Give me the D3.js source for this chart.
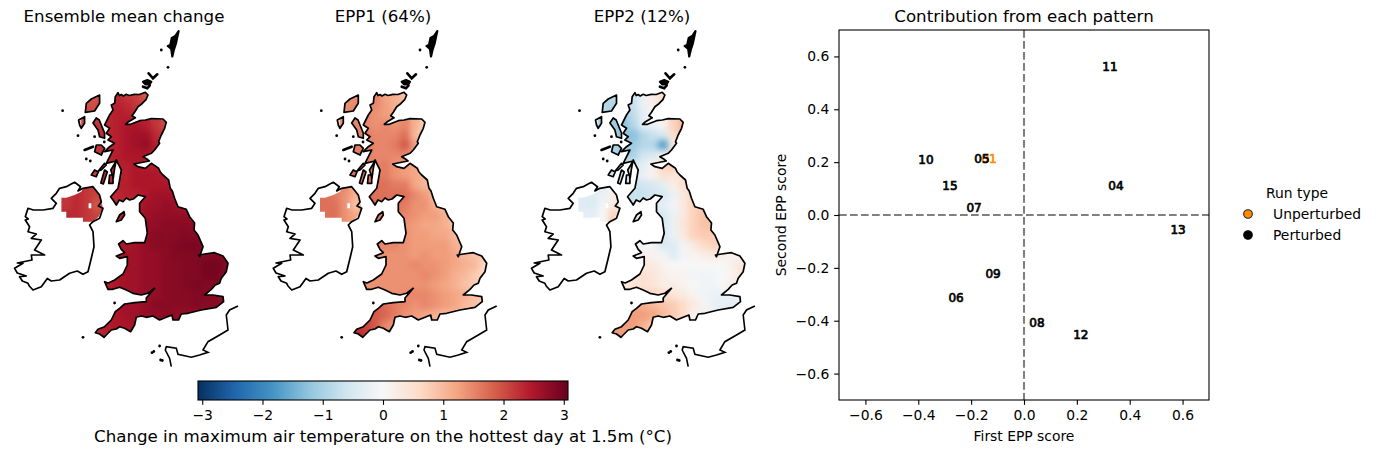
<!DOCTYPE html>
<html><head><meta charset="utf-8"><script src="https://cdn.jsdelivr.net/npm/d3@7/dist/d3.min.js"></script>
<style>html,body{margin:0;background:#fff}text{font-family:"DejaVu Sans",sans-serif;fill:#000}</style></head>
<body><svg id="c" width="1376" height="454"></svg>
<script>
// ---- coastlines, in map units
const greatBritain=[[376.7,92.7],[378,95.5],[380,94.5],[382,96],[385,94.3],[388,95.5],[393,94.3],[398,94.5],[404,92.3],[406.7,95],[404.7,99.7],[400.7,103.7],[396.7,106.7],[393.3,112.3],[390.7,115.7],[394,117.7],[387.3,121.7],[384.3,124.3],[389.3,124.3],[398.3,120.7],[404,120],[410,118.7],[421.7,119],[425,122.3],[423.3,128.3],[420,135],[417.3,141.7],[418.3,143.3],[413.3,150],[410,153.3],[401.7,156.7],[406,159.3],[408,161],[392.7,164],[396.7,166.7],[404,168.3],[410,163.3],[417.3,168.3],[419,172],[421.7,175],[427.3,180],[429,188.3],[431,191],[433.3,198.3],[436.7,206.7],[445,209.3],[448.3,216.7],[453.3,223],[452.7,230],[456.7,235],[461.7,246.7],[458.3,256.7],[457.3,255],[463.3,254],[473.3,252.7],[481.7,256],[486.7,263.3],[485,271.7],[480,278.3],[478.3,283.3],[474,285],[470,289.3],[463.3,295],[471.7,295],[481.7,296.7],[482.3,301.7],[475,307.3],[460,310],[446.7,313.3],[440,314],[437.3,320],[431.7,320],[430.7,315],[425,317.3],[418.3,320],[411.7,316],[405,317.3],[400,316],[395,317.3],[393.3,325],[389.3,331.7],[383.3,328.3],[378.3,326.7],[375,329],[370,330],[365,335],[362.7,337.3],[358.3,334],[354,332.7],[356.7,329.3],[363.3,326.7],[370,320],[374,311.7],[378.3,308.3],[383.3,304],[393.3,302.7],[405,301.7],[405,298],[413.3,288.3],[406.7,293.3],[400,295],[391.7,293.3],[385,290],[378.3,287.3],[371.7,289.3],[366.7,289.3],[363.3,281.7],[367,283],[373.3,280],[381.7,274],[386,265],[386,256.7],[378.3,258.3],[375,256],[383.3,252.7],[380,249.3],[377.3,244],[381.7,240.7],[385,244],[393.3,242.7],[403.3,242.7],[406,233.3],[404,218.3],[398.3,211.7],[398.3,203.3],[404,196.7],[396.7,195],[392,199],[388.3,200],[385,198],[381.7,201.7],[378,200],[375,205],[371.7,200],[369.3,196.7],[376.7,188.3],[378.3,180],[380,170],[378.3,166.7],[375,160],[373.3,168.3],[372,178],[369.5,170],[375,161],[365,163.3],[371.7,150],[363.3,151.7],[368.3,146.7],[373.3,143.3],[366.7,140],[370,136.7],[365,133.3],[368.3,128.3],[363.3,125],[368.3,115],[371.7,110],[370,105],[373.3,103.3],[374,96.7]];
const ireland=[[318.3,188.3],[325,186.7],[329,184.5],[333.3,182.3],[339.3,186.7],[336.7,191],[341.7,188.3],[351.7,186.7],[358.3,195],[360,202],[357,206],[361.7,208.3],[358.3,218.3],[351.7,221.7],[348.3,225],[351.7,231.7],[352.7,246.7],[350,258.3],[346.7,271.7],[341.7,274.3],[336,271],[328.3,273.3],[318.3,280],[310,281],[306,278.5],[300,286.7],[291.7,290],[288,286],[286.7,283.3],[281,281],[278.3,276.7],[285,276],[276,273],[273.3,268.3],[281.7,263.3],[276,263],[290.7,260],[290,255],[303.3,255],[293.3,250],[300,240],[290,238.3],[295,234],[286.7,231.7],[288.3,226.7],[284,220],[287,219],[284,216.7],[286.7,208.3],[292,210],[301.7,210],[311.7,208.3],[315,203.3],[310,198.3],[315,193.3]];
const france=[[496.7,306],[488.3,310],[485,315],[486.7,330],[478.3,335],[466.7,341.7],[461.7,350],[466.7,352.3],[458.3,355],[450,357.3],[436.7,354.3],[435,348.3],[425,346.7],[424,350],[428.3,358.3],[430,366.7]];
const lewis=[[358.3,95],[350,99],[345,103.3],[344,112.3],[353.3,111],[358.3,103.3]];
const uist=[[343.3,116.7],[337.3,120],[338.3,125],[340,128.3],[343.3,123.3]];
const skye=[[355,118],[351.7,123],[356.7,130],[358.3,136.7],[363.3,138.3],[363.3,133],[360,125],[358,120]];
const mull=[[355,145],[353.3,151.7],[360,155],[363.3,148.3],[360,145]];
const jura=[[363.3,163.3],[365,165],[360,170],[357,171]];
const islay=[[353.3,170],[350,175],[355,176.7],[357,172]];
const kintyre=[[363.3,170],[366,172],[362,184],[359.5,183]];
const arran=[[368.3,175],[367.5,183.3],[371.7,183.3],[371.7,175]];
const isleOfMan=[[382.7,211.7],[378.3,215],[375,221.7],[380,220],[383.3,215]];
const shetland=[[437.3,31],[434,36],[430.5,38],[429,45],[426.5,46],[430,49],[431,56.5],[432.5,50],[434.5,44],[436,37]];
const orkneyA=[[407.3,73.3],[411.7,78.3],[416,74.3]];
const orkneyB=[[401.7,81.7],[406,80],[410,81.7],[408.3,84.3],[404,84.3]];
const orkneyC=[[401.7,86.7],[406,88.3],[408.5,85.5]];
const tiree=[[343.3,150],[351.7,146.7]];
const smallIslands=[[420,50],[426.7,67.3],[321.3,110.7],[373.3,303],[341.7,337.3],[336.7,135.7],[353.3,136.7],[418.3,346],[410.7,352.7],[412.5,351.5],[419.3,360],[421,360.5],[349,161],[345,159],[363,142]];
const northernIrelandMask=[[320,197.7],[320,211.7],[325,211.7],[325,217.7],[341.7,217.7],[341.7,221.7],[351.7,221.7],[357.3,216.7],[361.7,208.3],[358.3,195],[351.7,186.7],[341.7,188.3],[340,191.7],[333.3,195],[325,197.7]];
const northernIrelandHole=[[347.3,203.3],[350,203.3],[350,208.3],[347.3,208.3]];

// ---- gridded fields: first column of each row, then values in degC
const rowStart=[0,0,0,0,1,1,1,1,1,2,3,3,3,5,5,3,3,4,3,2,3,3,2,1,1];
const ensembleMean=[
[1.9,1.9,2.2,2.3,2.2,2.1,1.9],
[2.0,2.0,2.2,2.4,2.3,2.2,2.0],
[2.0,2.1,2.3,2.4,2.4,2.3],
[2.0,2.2,2.3,2.4,2.5,2.5,2.4,2.2,2.0],
[2.2,2.3,2.4,2.5,2.6,2.6,2.3,2.1],
[2.2,2.3,2.4,2.5,2.6,2.7,2.4,2.2],
[2.2,2.3,2.4,2.5,2.5,2.5,2.4],
[2.2,2.3,2.4,2.4,2.5,2.4,2.4],
[2.1,2.2,2.3,2.4,2.5,2.5,2.5,2.4],
[2.3,2.4,2.4,2.5,2.5,2.5,2.5],
[2.3,2.4,2.4,2.5,2.6,2.6,2.5],
[2.3,2.3,2.4,2.6,2.6,2.7,2.6,2.5],
[2.4,2.4,2.5,2.6,2.7,2.7,2.7,2.7,2.6],
[2.6,2.7,2.7,2.8,2.8,2.8,2.7],
[2.6,2.7,2.8,2.8,2.8,2.85,2.8],
[2.5,2.5,2.6,2.7,2.8,2.8,2.85,2.9,2.9,2.8],
[2.5,2.6,2.6,2.7,2.7,2.8,2.85,2.85,2.85,2.85,2.85,2.8],
[2.6,2.6,2.7,2.7,2.8,2.8,2.85,2.85,2.95,2.95,2.85],
[2.5,2.6,2.6,2.7,2.7,2.8,2.8,2.85,2.85,2.95,2.95,2.85],
[2.4,2.5,2.6,2.6,2.7,2.7,2.8,2.8,2.85,2.9,2.85,2.85],
[2.6,2.6,2.6,2.7,2.7,2.8,2.8,2.8,2.85,2.85,2.8,2.7],
[2.5,2.6,2.6,2.7,2.8,2.8,2.8,2.8,2.85,2.8,2.8,2.7],
[2.5,2.5,2.6,2.6,2.7,2.7,2.8,2.7,2.7,2.7],
[2.3,2.4,2.5,2.5,2.6],
[2.3,2.4,2.5,2.5,2.6]];
const epp1=[
[1.3,1.4,1.4,1.6,1.2,1.1,0.9],
[1.4,1.5,1.5,1.5,1.3,1.1,1.0],
[1.4,1.5,1.5,1.4,1.3,1.2],
[1.4,1.5,1.5,1.4,1.5,1.4,1.5,1.1,0.7],
[1.5,1.6,1.5,1.5,1.5,1.7,1.0,0.7],
[1.6,1.6,1.5,1.5,1.6,1.9,1.3,0.8],
[1.6,1.6,1.5,1.5,1.5,1.5,1.2],
[1.7,1.6,1.5,1.6,1.4,1.3,1.2],
[1.7,1.7,1.6,1.6,1.4,1.3,1.2,1.0],
[1.7,1.7,1.7,1.6,1.6,1.2,1.0],
[1.7,1.7,1.7,1.7,1.5,1.3,1.0],
[1.7,1.7,1.7,1.6,1.4,1.4,1.1,0.9],
[1.6,1.6,1.6,1.5,1.4,1.3,1.3,1.1,0.9],
[1.5,1.4,1.3,1.2,1.2,1.1,0.9],
[1.6,1.4,1.3,1.3,1.2,1.2,1.0],
[1.5,1.5,1.5,1.4,1.3,1.3,1.3,1.3,1.1,0.9],
[1.4,1.4,1.4,1.4,1.3,1.4,1.3,1.3,1.2,1.0,0.9,0.8],
[1.4,1.4,1.4,1.5,1.4,1.4,1.3,1.2,1.1,1.0,0.6],
[1.4,1.4,1.4,1.4,1.4,1.5,1.4,1.3,1.1,1.0,0.8,0.6],
[1.4,1.4,1.4,1.4,1.4,1.4,1.4,1.3,1.2,1.1,0.9,0.8],
[1.5,1.5,1.4,1.5,1.5,1.5,1.4,1.3,1.2,1.1,0.9,0.8],
[1.9,1.7,1.6,1.5,1.4,1.5,1.4,1.3,1.2,1.0,0.9,0.8],
[2.0,1.9,1.8,1.6,1.4,1.3,1.2,1.1,1.0,1.0],
[2.2,2.1,1.9,1.5,1.3],
[2.4,2.2,1.9,1.5,1.3]];
const epp2=[
[-0.9,-0.8,-0.7,-0.7,-0.2,0.2,0.6],
[-0.9,-0.9,-0.9,-0.7,-0.2,0.2,0.6],
[-0.9,-1.0,-1.1,-0.8,-0.3,0.0],
[-1.0,-1.1,-1.3,-0.9,-0.3,-0.2,0.1,0.7,1.0],
[-1.1,-1.2,-1.3,-0.9,-0.7,-0.5,0.5,1.0],
[-1.0,-1.2,-1.1,-0.9,-0.9,-1.7,0.2,1.0],
[-0.9,-1.0,-1.0,-0.6,-0.5,-0.1,0.7],
[-0.8,-0.8,-0.6,-0.3,0.1,0.7,0.9],
[-0.6,-0.6,-0.5,-0.2,0.1,0.5,0.4,0.5],
[-0.7,-0.7,-0.6,-0.5,-0.3,0.2,0.5],
[-0.7,-0.7,-0.6,-0.5,-0.2,0.3,0.7],
[-0.6,-0.5,-0.4,-0.3,-0.1,0.3,0.7,0.8],
[-0.3,-0.3,-0.4,-0.5,-0.2,0.3,0.7,0.9,0.9],
[-0.5,-0.5,-0.2,0.4,0.7,0.9,0.9],
[-0.5,-0.5,-0.2,0.3,0.7,0.8,0.8],
[0.2,-0.1,-0.1,-0.5,-0.4,-0.1,0.3,0.6,0.7,0.7],
[0.1,0.2,0.1,-0.1,-0.4,-0.1,0.1,0.2,0.3,0.2,0.1,0.1],
[0.3,0.3,0.1,0.0,0.0,0.0,0.0,0.0,0.0,0.2,0.4],
[0.4,0.5,0.4,0.2,0.1,0.1,-0.1,-0.1,-0.1,0.0,0.1,0.5],
[0.3,0.4,0.5,0.4,0.2,0.2,0.1,0.0,-0.1,-0.1,0.0,0.3],
[0.7,0.7,0.7,0.6,0.4,0.3,0.1,-0.1,-0.2,-0.2,-0.2,-0.1],
[1.2,1.1,1.0,0.9,0.8,0.6,0.3,0.1,-0.2,-0.3,-0.3,-0.2],
[1.3,1.3,1.3,1.2,1.0,0.8,0.6,0.1,-0.2,-0.2],
[1.3,1.3,1.3,1.1,0.8],
[1.3,1.3,1.2,1.0,0.7]];
const niEnsembleMean=[[2.3,2.3,2.2,2.1,2.1],[2.2,2.3,2.2,2.1,2.1],[2.2,2.3,2.2,1.9,2.0],[2.3,2.3,2.2,2.1,2.1],[2.3,2.3,2.2,2.1,2.1]];
const niEpp1=[[1.6,1.6,1.5,1.1,1.0],[1.7,1.6,1.4,1.1,1.0],[1.7,1.7,1.4,0.9,1.0],[1.7,1.7,1.4,1.2,1.2],[1.7,1.7,1.4,1.2,1.2]];
const niEpp2=[[-0.4,-0.4,-0.3,0.0,0.2],[-0.4,-0.4,-0.2,0.2,0.3],[-0.4,-0.4,-0.1,0.3,0.4],[-0.3,-0.3,0.0,0.7,0.5],[-0.3,-0.3,0.0,0.9,0.6]];

// ---- scatter
const runLabels=["01","05","10","15","07","11","04","13","09","06","08","12"];
const firstEpp=[-0.132,-0.159,-0.371,-0.28,-0.189,0.325,0.348,0.583,-0.117,-0.257,0.049,0.215];
const secondEpp=[0.212,0.212,0.208,0.11,0.026,0.56,0.11,-0.057,-0.223,-0.314,-0.408,-0.454];
const runTypes=["Unperturbed","Perturbed","Perturbed","Perturbed","Perturbed","Perturbed","Perturbed","Perturbed","Perturbed","Perturbed","Perturbed","Perturbed"];
const legendTypes=["Unperturbed","Perturbed"];
const typeColours=["#ff8c00","#000000"];
const scatterTicks=[-0.6,-0.4,-0.2,0,0.2,0.4,0.6];
const colourbarTicks=[-3,-2,-1,0,1,2,3];
const rdbuStops=["#053061","#2166ac","#4393c3","#92c5de","#d1e5f0","#f7f7f7","#fddbc7","#f4a582","#d6604d","#b2182b","#67001f"];
const limit=3.07;
const panels=[
 {title:"Ensemble mean change",grid:ensembleMean,ni:niEnsembleMean,left:-258.7},
 {title:"EPP1 (64%)",grid:epp1,ni:niEpp1,left:0},
 {title:"EPP2 (12%)",grid:epp2,ni:niEpp2,left:258.2}];

const svg=d3.select("#c"), defs=svg.append("defs");
const colour=d3.scaleLinear().domain(d3.range(11).map(i=>-limit+i*limit/5)).range(rdbuStops).clamp(true);

const blur=defs.append("filter").attr("id","soft").attr("x","-5%").attr("y","-5%").attr("width","110%").attr("height","110%").attr("color-interpolation-filters","sRGB");
blur.append("feGaussianBlur").attr("in","SourceGraphic").attr("stdDeviation",3).attr("result","b");
const merge=blur.append("feMerge"); merge.append("feMergeNode").attr("in","SourceGraphic"); merge.append("feMergeNode").attr("in","b");

const landPolys=[greatBritain,lewis,uist,skye,mull,jura,islay,kintyre,arran,isleOfMan];
const outlinePolys=[greatBritain,ireland,lewis,uist,skye,mull,jura,islay,kintyre,arran,isleOfMan];
panels.forEach((p,k)=>{
  const g=svg.append("g");
  const mx=d3.scaleLinear().domain([0,1]).range([p.left,p.left+1]);
  const my=d3.scaleLinear().domain([0,1]).range([0,1]);
  const ring=d3.line().x(d=>mx(d[0])).y(d=>my(d[1])).curve(d3.curveLinearClosed);
  const open=d3.line().x(d=>mx(d[0])).y(d=>my(d[1]));
  const cx=d3.scaleLinear().domain([0,1]).range([mx(340),mx(350)]);
  const cy=d3.scaleLinear().domain([0,1]).range([my(90),my(100)]);
  const nx=d3.scaleLinear().domain([0,1]).range([mx(320),mx(330)]);
  const ny=d3.scaleLinear().domain([0,1]).range([my(180),my(190)]);
  defs.append("clipPath").attr("id","land"+k).append("path").attr("d",landPolys.map(ring).join(""));
  defs.append("clipPath").attr("id","ni"+k).append("path").attr("clip-rule","evenodd").attr("d",ring(northernIrelandMask)+ring(northernIrelandHole));
  const cells=[];
  p.grid.forEach((row,i)=>row.forEach((v,j)=>cells.push({i,j:j+rowStart[i],v})));
  g.append("g").attr("clip-path",`url(#land${k})`).append("g").attr("filter","url(#soft)")
    .selectAll("rect").data(cells).join("rect")
    .attr("x",d=>cx(d.j)).attr("y",d=>cy(d.i)).attr("width",cx(1)-cx(0)+.3).attr("height",cy(1)-cy(0)+.3)
    .attr("fill",d=>colour(d.v));
  const niCells=[];
  p.ni.forEach((row,i)=>row.forEach((v,j)=>niCells.push({i,j,v})));
  g.append("g").attr("clip-path",`url(#ni${k})`).append("g").attr("filter","url(#soft)")
    .selectAll("rect").data(niCells).join("rect")
    .attr("x",d=>nx(d.j)).attr("y",d=>ny(d.i)).attr("width",nx(1)-nx(0)+.3).attr("height",ny(1)-ny(0)+.3)
    .attr("fill",d=>colour(d.v));
  g.append("g").selectAll("path").data(outlinePolys).join("path").attr("d",ring)
    .attr("fill","none").attr("stroke","#000").attr("stroke-width",1.7).attr("stroke-linejoin","round");
  g.append("path").attr("d",open(france)).attr("fill","none").attr("stroke","#000").attr("stroke-width",1.6);
  g.append("g").selectAll("path").data([tiree,orkneyA,orkneyC]).join("path").attr("d",open)
    .attr("fill","none").attr("stroke","#000").attr("stroke-width",2.6).attr("stroke-linecap","round");
  g.append("g").selectAll("path").data([shetland,orkneyB]).join("path").attr("d",ring)
    .attr("fill","#000").attr("stroke","#000").attr("stroke-width",2.2).attr("stroke-linejoin","round");
  g.append("g").selectAll("circle").data(smallIslands).join("circle")
    .attr("cx",d=>mx(d[0])).attr("cy",d=>my(d[1])).attr("r",1.4).attr("fill","#000");
  svg.append("text").attr("x",[124,383,642][k]).attr("y",22).attr("text-anchor","middle").attr("font-size",16.67).text(p.title);
});

// colourbar
const cb=d3.scaleLinear().domain([-limit,limit]).range([198,568]);
const gradId="cbg"; const grad=defs.append("linearGradient").attr("id",gradId);
d3.range(11).forEach(i=>grad.append("stop").attr("offset",i/10).attr("stop-color",rdbuStops[i]));
svg.append("rect").attr("x",198).attr("y",381).attr("width",370).attr("height",19).attr("fill",`url(#${gradId})`);
const cbAxis=svg.append("g").attr("transform","translate(0,400)").call(d3.axisBottom(cb).tickValues(colourbarTicks).tickFormat(d3.format("d")).tickSize(4.86).tickPadding(4.9));
cbAxis.select(".domain").remove();
cbAxis.selectAll("line").attr("stroke-width",1.1);
cbAxis.selectAll("text").attr("font-size",13.89).attr("font-family",'"DejaVu Sans"');
svg.append("rect").attr("x",198).attr("y",381).attr("width",370).attr("height",19).attr("fill","none").attr("stroke","#000").attr("stroke-width",1.1);
svg.append("text").attr("x",383).attr("y",442).attr("text-anchor","middle").attr("font-size",16.67).text("Change in maximum air temperature on the hottest day at 1.5m (°C)");

// scatter
const sx=d3.scaleLinear().domain([-0.7,0.7]).range([839,1209]);
const sy=d3.scaleLinear().domain([-0.7,0.7]).range([400,30]);
const fmt=d3.format(".1f");
const xa=svg.append("g").attr("transform","translate(0,400)").call(d3.axisBottom(sx).tickValues(scatterTicks).tickFormat(fmt).tickSize(4.86).tickPadding(4.9));
const ya=svg.append("g").attr("transform","translate(839,0)").call(d3.axisLeft(sy).tickValues(scatterTicks).tickFormat(fmt).tickSize(4.86).tickPadding(4.9));
[xa,ya].forEach(a=>{a.select(".domain").remove();a.selectAll("line").attr("stroke-width",1.1);a.selectAll("text").attr("font-size",13.89).attr("font-family",'"DejaVu Sans"');});
[[sx(0),30,sx(0),400],[839,sy(0),1209,sy(0)]].forEach(l=>svg.append("line").attr("x1",l[0]).attr("y1",l[1]).attr("x2",l[2]).attr("y2",l[3])
  .attr("stroke","#808080").attr("stroke-width",2.08).attr("stroke-dasharray","7.7 3.3"));
svg.append("rect").attr("x",839).attr("y",30).attr("width",370).attr("height",370).attr("fill","none").attr("stroke","#000").attr("stroke-width",1.1);
svg.append("g").selectAll("text").data(runLabels).join("text")
  .attr("x",(d,i)=>sx(firstEpp[i])).attr("y",(d,i)=>sy(secondEpp[i])).attr("dy","0.36em").attr("text-anchor","middle")
  .attr("font-size",12).style("fill",(d,i)=>typeColours[legendTypes.indexOf(runTypes[i])])
  .attr("stroke",(d,i)=>typeColours[legendTypes.indexOf(runTypes[i])]).attr("stroke-width",0.7).text(d=>d);
svg.append("text").attr("x",1024).attr("y",441).attr("text-anchor","middle").attr("font-size",13.89).text("First EPP score");
svg.append("text").attr("transform","translate(786,215) rotate(-90)").attr("text-anchor","middle").attr("font-size",13.89).text("Second EPP score");
svg.append("text").attr("x",1024).attr("y",22).attr("text-anchor","middle").attr("font-size",16.67).text("Contribution from each pattern");

// legend
svg.append("text").attr("x",1297).attr("y",198).attr("text-anchor","middle").attr("font-size",13.89).text("Run type");
const leg=d3.scalePoint().domain(legendTypes).range([214,235]);
legendTypes.forEach((t,i)=>{
  svg.append("circle").attr("cx",1248).attr("cy",leg(t)).attr("r",4.3).attr("fill",typeColours[i]).attr("stroke",i?"#000":"#222").attr("stroke-width",1.1);
  svg.append("text").attr("x",1273).attr("y",leg(t)+5).attr("font-size",13.89).text(t);
});
</script></body></html>
